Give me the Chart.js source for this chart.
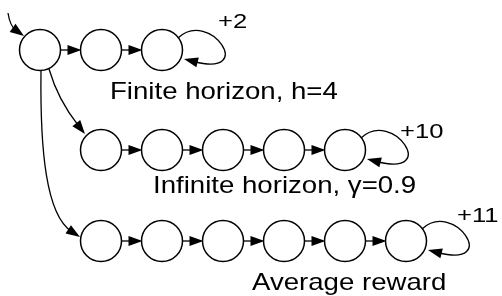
<!DOCTYPE html>
<html>
<head>
<meta charset="utf-8">
<script src="https://cdn.jsdelivr.net/npm/chart.js@4"></script>
<style>
html,body{margin:0;padding:0;background:#fff;}
canvas{display:block;}
</style>
</head>
<body>
<canvas id="c" width="502" height="296"></canvas>
<script>
// ---- data ----
const rowLevels = [0, 1, 1.91];                 // vertical level of each chain
const chainFinite = [0, 1, 2];                  // column index of each state
const chainInfinite = [1, 2, 3, 4, 5];
const chainAverage = [1, 2, 3, 4, 5, 6];
const captions = ['Finite horizon, h=4', 'Infinite horizon, \u03B3=0.9', 'Average reward'];
const rewards = ['+2', '+10', '+11'];

const chains = [chainFinite, chainInfinite, chainAverage];

// ---- layout / style ----
const R = 20.5;
const FONT = '"Liberation Sans", Arial, Helvetica, sans-serif';
const captionPos = [[110, 99], [153, 193], [252, 290]];     // left, baseline (px)
const rewardPos = [[218, 28], [400, 138], [457, 222]];
const captionFont = {size: 24, stretch: 1.15};
const rewardFont = {size: 21, stretch: 1.22};

function head(ctx, tx, ty, ang) {
  const L = 14, W = 5;
  ctx.beginPath();
  ctx.moveTo(tx, ty);
  ctx.lineTo(tx - L * Math.cos(ang) + W * Math.sin(ang), ty - L * Math.sin(ang) - W * Math.cos(ang));
  ctx.lineTo(tx - L * Math.cos(ang) - W * Math.sin(ang), ty - L * Math.sin(ang) + W * Math.cos(ang));
  ctx.closePath();
  ctx.fill();
}

function stretchedText(ctx, txt, x, y, f) {
  ctx.save();
  ctx.translate(x, y);
  ctx.scale(f.stretch, 1);
  ctx.font = f.size + 'px ' + FONT;
  ctx.textBaseline = 'alphabetic';
  ctx.textAlign = 'left';
  ctx.fillText(txt, 0, 0);
  ctx.restore();
}

const diagram = {
  id: 'diagram',
  afterDatasetsDraw(chart) {
    const ctx = chart.ctx;
    const sx = chart.scales.x, sy = chart.scales.y;
    const px = v => sx.getPixelForValue(v);
    const py = v => sy.getPixelForValue(v);
    ctx.save();
    ctx.strokeStyle = '#000';
    ctx.fillStyle = '#000';
    ctx.lineWidth = 1.3;
    ctx.lineCap = 'butt';

    // chain arrows
    chains.forEach((cols, r) => {
      const y = py(rowLevels[r]);
      for (let i = 1; i < cols.length; i++) {
        const x0 = px(cols[i - 1]) + R;
        const x1 = px(cols[i]) - R + 1;
        ctx.beginPath();
        ctx.moveTo(x0, y);
        ctx.lineTo(x1 - 12, y);
        ctx.stroke();
        head(ctx, x1, y, 0);
      }
      // self loop on last state
      const cx = px(cols[cols.length - 1]), cy = y;
      const p0 = [cx + 16, cy - 12], c1 = [cx + 48, cy - 42], c2 = [cx + 95, cy + 28], p3 = [cx + 22, cy + 9];
      ctx.beginPath();
      ctx.moveTo(p0[0], p0[1]);
      ctx.bezierCurveTo(c1[0], c1[1], c2[0], c2[1], p3[0] + 10, p3[1] + 2.5);
      ctx.stroke();
      head(ctx, p3[0], p3[1], Math.atan2(-2.5, -10));
    });

    // start arrow
    const s0x = px(chainFinite[0]), s0y = py(rowLevels[0]);
    {
      const p0 = [s0x - 32, s0y - 37], c = [s0x - 30, s0y - 24], t = [s0x - 16, s0y - 14];
      const ang = Math.atan2(t[1] - c[1], t[0] - c[0]);
      ctx.beginPath();
      ctx.moveTo(p0[0], p0[1]);
      ctx.quadraticCurveTo(c[0], c[1], t[0] - 10 * Math.cos(ang), t[1] - 10 * Math.sin(ang));
      ctx.stroke();
      head(ctx, t[0], t[1], ang);
    }
    // branch to infinite-horizon chain
    {
      const tx = px(chainInfinite[0]), ty = py(rowLevels[1]);
      const p0 = [s0x + 9, s0y + 19], c = [s0x + 18, s0y + 50], t = [tx - 16, ty - 16];
      const ang = Math.atan2(t[1] - c[1], t[0] - c[0]);
      ctx.beginPath();
      ctx.moveTo(p0[0], p0[1]);
      ctx.quadraticCurveTo(c[0], c[1], t[0] - 10 * Math.cos(ang), t[1] - 10 * Math.sin(ang));
      ctx.stroke();
      head(ctx, t[0], t[1], ang);
    }
    // branch to average-reward chain
    {
      const tx = px(chainAverage[0]), ty = py(rowLevels[2]);
      const p0 = [s0x + 1, s0y + 21], c1 = [s0x, s0y + 100], c2 = [s0x + 6, ty - 26], t = [tx - 21, ty - 4];
      const ang = Math.atan2(t[1] - c2[1], t[0] - c2[0]);
      ctx.beginPath();
      ctx.moveTo(p0[0], p0[1]);
      ctx.bezierCurveTo(c1[0], c1[1], c2[0], c2[1], t[0] - 10 * Math.cos(ang), t[1] - 10 * Math.sin(ang));
      ctx.stroke();
      head(ctx, t[0], t[1], ang);
    }

    // texts
    captions.forEach((t, i) => stretchedText(ctx, t, captionPos[i][0], captionPos[i][1], captionFont));
    rewards.forEach((t, i) => stretchedText(ctx, t, rewardPos[i][0], rewardPos[i][1], rewardFont));
    ctx.restore();
  }
};

const datasets = chains.map((cols, r) => ({
  data: cols.map(c => ({x: c, y: rowLevels[r]})),
  showLine: false,
  pointRadius: R,
  pointHoverRadius: R,
  pointBackgroundColor: 'rgba(255,255,255,0)',
  pointBorderColor: '#000',
  pointBorderWidth: 1.5,
  clip: false
}));

new Chart(document.getElementById('c'), {
  type: 'scatter',
  data: {datasets},
  options: {
    responsive: false,
    animation: false,
    events: [],
    layout: {padding: 0, autoPadding: false},
    plugins: {legend: {display: false}, tooltip: {enabled: false}},
    scales: {
      x: {type: 'linear', min: -40 / 61, max: 462 / 61, display: false},
      y: {type: 'linear', min: -0.5, max: 2.46, reverse: true, display: false}
    }
  },
  plugins: [diagram]
});
</script>
</body>
</html>
